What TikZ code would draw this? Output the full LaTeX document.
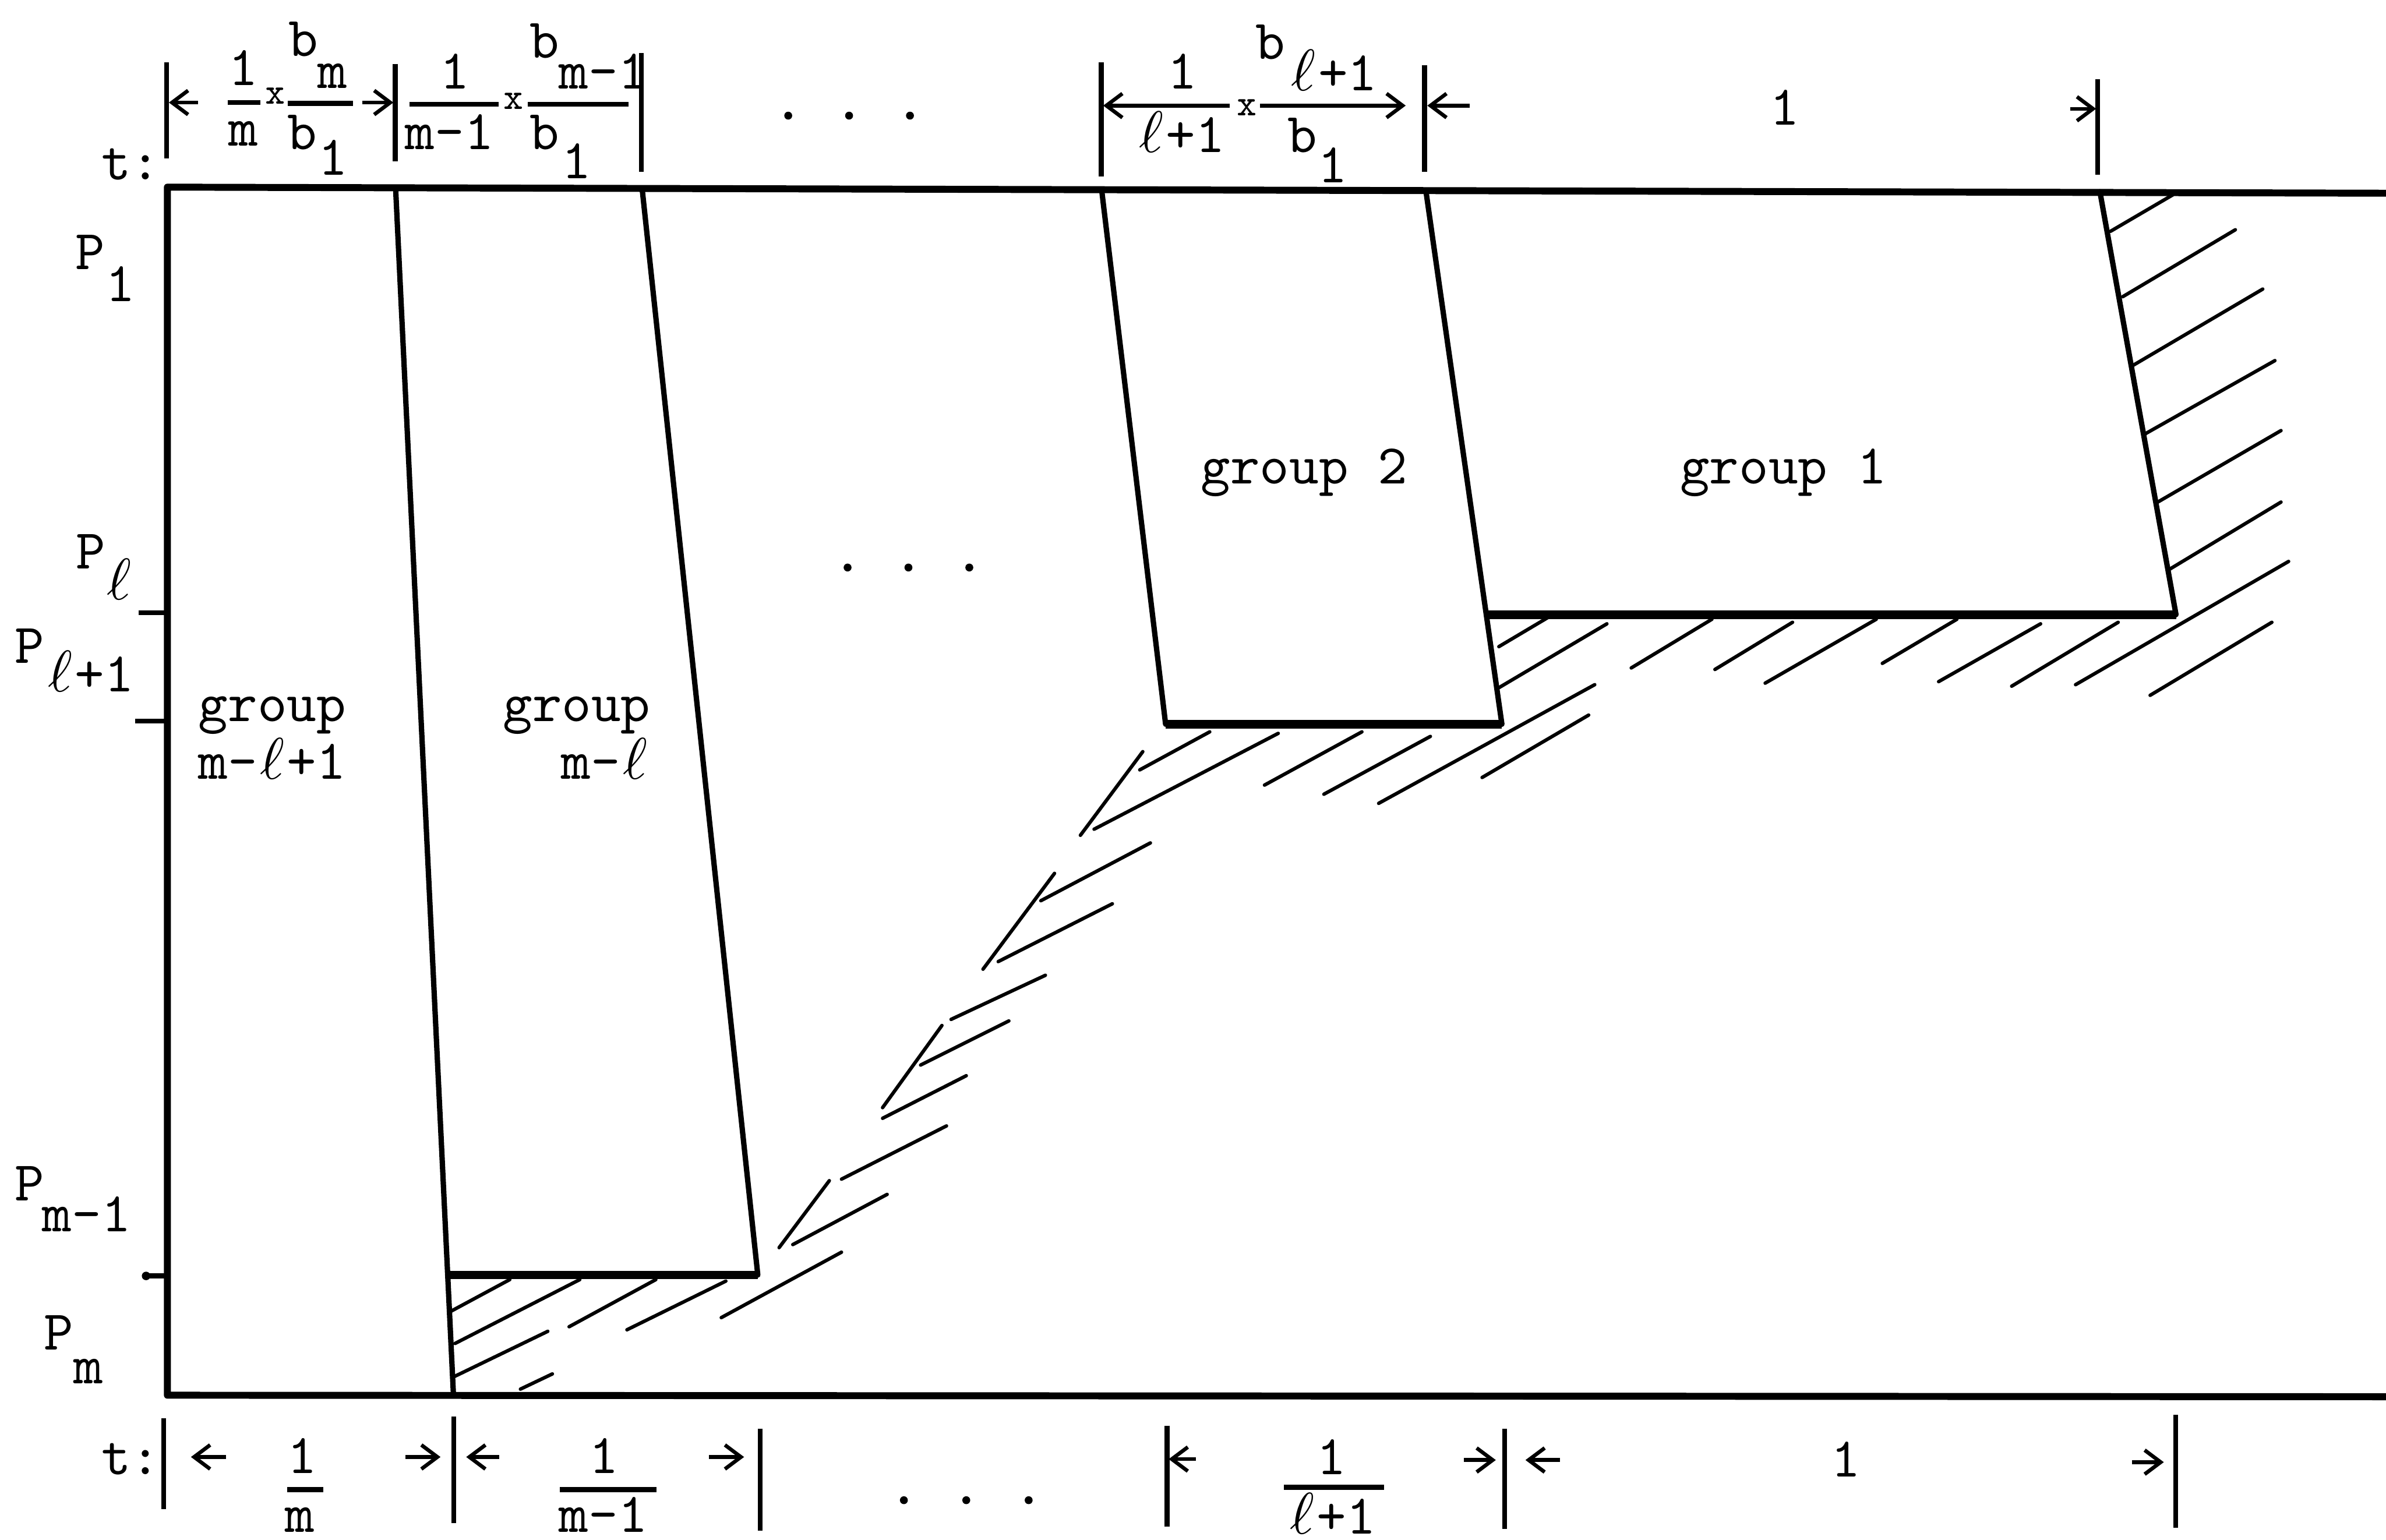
\documentclass[tikz,border=0pt]{standalone}
\usetikzlibrary{arrows.meta}
\newcommand\ellb{\makebox[0.525em]{$\ell$}}
\begin{document}
\begin{tikzpicture}[x=0.01cm,y=-0.01cm,
  every node/.style={inner sep=0pt, font=\fontsize{10.5}{12}\selectfont\ttfamily},
  tx/.style={anchor=base},
  smallx/.style={font=\fontsize{7}{7}\selectfont\ttfamily},
  edgeline/.style={line width=1pt, line cap=round, line join=round},
  rule/.style={line width=1.3pt, line join=round},
  floor/.style={line width=1.6pt},
  hatch/.style={line width=0.65pt, line cap=round},
  tickline/.style={line width=0.9pt},
  sarr/.style={line width=0.7pt, -{Straight Barb[length=3pt,width=4.5pt]}},
  fbar/.style={line width=0.9pt}]
\useasboundingbox (0,0) rectangle (1568,1012);

% ---- frame ----
\draw[rule] (1568,127) -- (110,123) -- (110,917) -- (1568,918);

% ---- group boundaries ----
\draw[edgeline] (260,124) -- (298,917);
\draw[edgeline] (422,124) -- (498,838);
\draw[floor] (294,838) -- (498,838);
\draw[edgeline] (724,125) -- (766,476);
\draw[edgeline] (937,125) -- (987,476);
\draw[floor] (766,476) -- (987,476);
\draw[floor] (977,404) -- (1430,404);
\draw[edgeline] (1380,126) -- (1430,404);

% ---- hatching ----
\foreach \a/\b/\c/\d in {
  1387/152/1428/128, 1395/195/1469/151, 1402/240/1487/190, 1410/285/1495/237,
  1418/330/1499/283, 1426/374/1499/330, 1364/450/1504/369, 1413/457/1493/409,
  985/425/1017/406, 985/452/1056/410, 1072/439/1125/407, 1127/440/1178/409,
  1160/449/1233/407, 1237/436/1286/407, 1274/448/1341/410, 1322/451/1392/409,
  906/528/1048/450, 974/511/1044/470, 870/522/940/484, 831/516/895/481,
  719/545/840/482, 749/506/795/481, 710/549/751/494,
  646/637/693/574, 684/592/756/554, 656/632/731/594, 625/670/687/641,
  605/700/663/671, 580/728/619/674, 580/735/635/707, 553/775/622/740,
  512/820/545/776, 521/818/583/785, 474/866/553/823,
  296/862/335/841, 299/883/381/841, 374/872/431/841, 412/874/477/842,
  298/905/360/875, 342/913/363/903}
  \draw[hatch] (\a,\b) -- (\c,\d);

% ---- top scale ----
\node[tx] (ttop) at (86,118) {t:};
\foreach \x/\ya/\yb in {109.6/41/104, 259.7/42/106, 421.4/35/113, 723.7/41/116, 936.2/43/113, 1378.5/52/115}
  \draw[tickline] (\x,\ya) -- (\x,\yb);
\draw[sarr] (130,67.4) -- (111,67.4);
\draw[sarr] (238,67.4) -- (258.5,67.4);
\draw[sarr] (808.3,69.4) -- (725,69.4);
\draw[sarr] (828,69.4) -- (923.8,69.4);
\draw[sarr] (966,69.4) -- (938,69.4);
\draw[sarr] (1360.5,71.5) -- (1377.5,71.5);
\draw[fbar] (149.5,67.4) -- (171,67.4);
\draw[fbar] (189,68) -- (232,68);
\draw[fbar] (269,68.4) -- (327.5,68.4);
\draw[fbar] (347,68.4) -- (413,68.4);

\node[tx] (n1) at (160,56) {1};
\node[tx] (d1) at (160,96) {m};
\node[smallx] (x1) at (181,63) {x};
\node[tx] (b1) at (199.5,37) {b};
\node[tx] (s1) at (218.5,58) {m};
\node[tx] (b2) at (198.5,98) {b};
\node[tx] (s2) at (219,115) {1};

\node[tx] (n2) at (299,58.5) {1};
\node[tx] (d2) at (295.5,98) {m-1};
\node[smallx] (x2) at (337.5,66.5) {x};
\node[tx] (b3) at (358,38) {b};
\node[tx] (s3) at (396.5,58.5) {m-1};
\node[tx] (b4) at (358,98) {b};
\node[tx] (s4) at (378.8,117.5) {1};

\foreach \x in {518,558,598} \fill (\x,76) circle (2.6);

\node[tx] (n3) at (777,58.5) {1};
\node[tx] (d3) at (776,100) {\ellb+1};
\node[smallx] (x3) at (819.5,70.5) {x};
\node[tx] (b5) at (835,39) {b};
\node[tx] (s5) at (876,59.5) {\ellb+1};
\node[tx] (b6) at (856,100) {b};
\node[tx] (s6) at (875.7,120) {1};

\node[tx] (one) at (1173,82.3) {1};

% ---- bottom scale ----
\node[tx] (tbot) at (86,969) {t:};
\foreach \x/\ya/\yb in {107.6/932/992, 298.2/931/1001, 499.6/939/1006, 767/937/1003.5, 988.8/939/1005, 1429.8/930/1004}
  \draw[tickline] (\x,\ya) -- (\x,\yb);
\draw[sarr] (148.6,957.6) -- (125.5,957.6);
\draw[sarr] (266.4,957.6) -- (289.5,957.6);
\draw[sarr] (328,957.6) -- (306.4,957.6);
\draw[sarr] (466,957.6) -- (489,957.6);
\draw[sarr] (786,959) -- (768,959);
\draw[sarr] (962,959.6) -- (983,959.6);
\draw[sarr] (1025,959.6) -- (1002.5,959.6);
\draw[sarr] (1401,961) -- (1422,961);
\draw[fbar] (188.6,979) -- (212.6,979);
\draw[fbar] (368,979) -- (431.4,979);
\draw[fbar] (843.7,977.5) -- (909.4,977.5);
\node[tx] (bn1) at (198.5,968.5) {1};
\node[tx] (bd1) at (197,1007) {m};
\node[tx] (bn2) at (397,968.5) {1};
\node[tx] (bd2) at (396.5,1007) {m-1};
\foreach \x in {594,635,676} \fill (\x,986) circle (2.6);
\node[tx] (bn3) at (875,969) {1};
\node[tx] (bd3) at (875,1008) {\ellb+1};
\node[tx] (bone) at (1213,970.5) {1};

% ---- processor labels ----
\node[tx] (p1) at (59.2,177) {P};
\node[tx] (p1s) at (79.3,198) {1};
\node[tx] (pl) at (59.5,374) {P};
\node[tx] (pls) at (78.3,394) {\ellb};
\draw[tickline] (91,402.7) -- (110,402.7);
\node[tx] (pl1) at (19.3,436) {P};
\node[tx] (pl1s) at (59,454.5) {\ellb+1};
\draw[tickline] (89,474) -- (110,474);
\node[tx] (pm1) at (19.3,789) {P};
\node[tx] (pm1s) at (57,809.5) {m-1};
\draw[tickline] (95,838.6) -- (110,838.6);
\fill (96,838.6) circle (2.8);
\node[tx] (pm) at (38.5,887.3) {P};
\node[tx] (pms) at (58.3,909.5) {m};

% ---- group labels ----
\node[tx] (g2) at (857,318) {group 2};
\node[tx] (g1) at (1172,318) {group 1};
\node[tx] (ga) at (179,474) {group};
\node[tx] (gas) at (179,512) {m-\ellb+1};
\node[tx] (gb) at (379,474) {group};
\node[tx] (gbs) at (398,512) {m-\ellb};
\foreach \x in {557,597,637} \fill (\x,373) circle (2.6);
\end{tikzpicture}
\end{document}
